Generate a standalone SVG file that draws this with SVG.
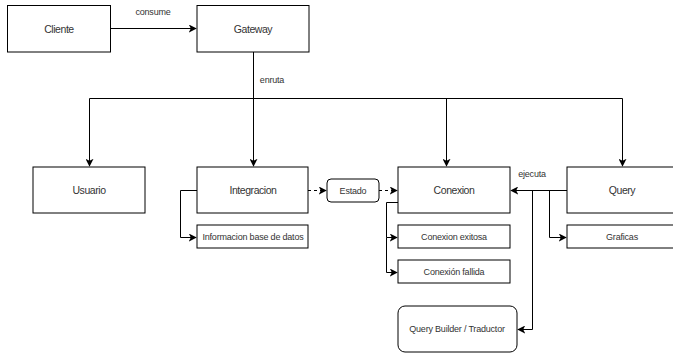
<svg xmlns="http://www.w3.org/2000/svg" width="673" height="353" viewBox="0 0 673 353">
<defs>
<style>
.n{fill:#fff;stroke:#000;stroke-width:1}
.t{font-family:"Liberation Sans",Arial,sans-serif;font-size:10.5px;letter-spacing:-0.45px;fill:#333;text-anchor:middle;dominant-baseline:central}
.s{font-size:9px;letter-spacing:-0.2px}
.e{fill:none;stroke:#000;stroke-width:1}
.d{stroke-dasharray:3 3}
</style>
<marker id="a" viewBox="0 0 10 10" refX="9" refY="5" markerWidth="8" markerHeight="8" orient="auto" markerUnits="userSpaceOnUse"><path d="M0,0 L10,5 L0,10 L2.5,5 Z" fill="#000"/></marker>
</defs>
<rect width="673" height="353" fill="#fff"/>
<g id="connectors">
<path class="e" d="M110.5,28.5 H196" marker-end="url(#a)"/>
<text class="t s" x="153" y="12">consume</text>
<path class="e" d="M253.5,52 V98.5"/>
<path class="e" d="M89.5,98.5 H622.5"/>
<text class="t s" x="272" y="80">enruta</text>
<path class="e" d="M89.5,98.5 V166" marker-end="url(#a)"/>
<path class="e" d="M253.5,98.5 V166" marker-end="url(#a)"/>
<path class="e" d="M446.5,98.5 V166" marker-end="url(#a)"/>
<path class="e" d="M622.5,98.5 V166" marker-end="url(#a)"/>
<path class="e" d="M197,190.5 H180.5 V237.5 H196" marker-end="url(#a)"/>
<path class="e d" d="M308,190.5 H326" marker-end="url(#a)"/>
<path class="e d" d="M379,190.5 H397" marker-end="url(#a)"/>
<path class="e" d="M398,202.5 H386.5 V237.5 H397" marker-end="url(#a)"/>
<path class="e" d="M386.5,237.5 V272.5 H397" marker-end="url(#a)"/>
<path class="e" d="M567,190.5 H511" marker-end="url(#a)"/>
<text class="t s" x="532" y="174">ejecuta</text>
<path class="e" d="M549.5,190.5 V237.5 H566" marker-end="url(#a)"/>
<path class="e" d="M532.5,190.5 V329.5 H518" marker-end="url(#a)"/>
</g>
<g id="cliente"><rect class="n" x="7.5" y="5.5" width="103" height="46.5"/><text class="t" x="59" y="29">Cliente</text></g>
<g id="gateway"><rect class="n" x="197" y="5.5" width="112" height="46.5"/><text class="t" x="253" y="29">Gateway</text></g>
<g id="usuario"><rect class="n" x="33" y="167" width="112" height="46"/><text class="t" x="89" y="190">Usuario</text></g>
<g id="integracion"><rect class="n" x="197" y="167" width="111" height="46"/><text class="t" x="253" y="190">Integracion</text></g>
<g id="informacion"><rect class="n" x="197" y="225" width="111" height="23"/><text class="t s" x="253" y="237">Informacion base de datos</text></g>
<g id="estado"><rect class="n" x="327" y="179" width="52" height="23" rx="4"/><text class="t s" x="353" y="190.5">Estado</text></g>
<g id="conexion"><rect class="n" x="398" y="167" width="112" height="46"/><text class="t" x="454" y="190">Conexion</text></g>
<g id="exitosa"><rect class="n" x="398" y="225" width="112" height="23"/><text class="t s" x="454" y="237">Conexion exitosa</text></g>
<g id="fallida"><rect class="n" x="398" y="260" width="112" height="23"/><text class="t s" x="454" y="272">Conexión fallida</text></g>
<g id="query"><rect class="n" x="567" y="167" width="112" height="46"/><text class="t" x="622" y="190">Query</text></g>
<g id="graficas"><rect class="n" x="567" y="225" width="112" height="23"/><text class="t s" x="622" y="237">Graficas</text></g>
<g id="builder"><rect class="n" x="398" y="306" width="119" height="46" rx="7"/><text class="t s" x="457" y="329">Query Builder / Traductor</text></g>
</svg>
